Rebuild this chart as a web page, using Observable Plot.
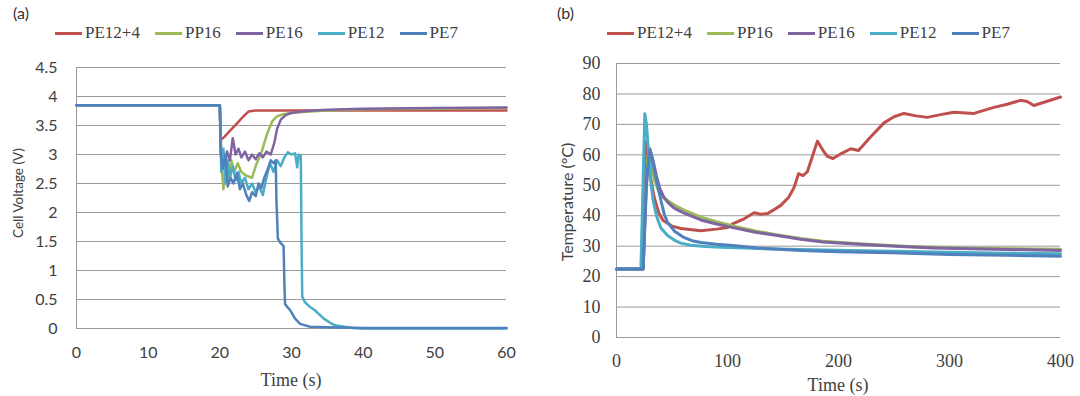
<!DOCTYPE html>
<html><head><meta charset="utf-8">
<script src="https://cdn.jsdelivr.net/npm/d3@7"></script>
<script src="https://cdn.jsdelivr.net/npm/@observablehq/plot@0.6"></script>
<style>
body{margin:0;background:#fff;}
#wrap{position:relative;width:1080px;height:396px;overflow:hidden;background:#fff;}
.legend{position:absolute;top:24px;display:flex;align-items:center;gap:15px;font-family:"Liberation Serif",serif;font-size:17px;color:#404040;height:18px;white-space:nowrap}
.legend .it{display:flex;align-items:center;gap:3px;}
.legend .sw{width:27px;height:3px;}
.plab{position:absolute;font-family:Lato,sans-serif;font-size:16px;color:#333;line-height:18px}
.ttl{position:absolute;white-space:nowrap;line-height:20px;color:#404040}
</style></head>
<body><div id="wrap"></div>
<script>
// ---------- data ----------
const seriesNames = ["PE12+4","PP16","PE16","PE12","PE7"];
const seriesColors = ["#C0504D","#9BBB59","#8064A2","#4BACC6","#4F81BD"];

const voltTicks = [0,0.5,1,1.5,2,2.5,3,3.5,4,4.5];
const voltTimeTicks = [0,10,20,30,40,50,60];
const tempTicks = [0,10,20,30,40,50,60,70,80,90];
const tempTimeTicks = [0,100,200,300,400];

// (a) cell voltage [time s, V]
const voltPE12_4 = [[0,3.85],[20,3.85],[20.1,3.25],[20.6,3.3],[21.5,3.42],[22.5,3.55],[23.3,3.66],[24,3.74],[25,3.76],[30,3.76],[40,3.76],[50,3.76],[60,3.76]];
const voltPP16 = [[0,3.85],[20,3.85],[20.2,2.9],[20.5,2.4],[20.8,2.8],[21.2,2.6],[21.6,2.9],[22,2.7],[22.5,2.85],[23,2.7],[23.5,2.65],[24,2.62],[24.5,2.6],[25,2.8],[25.5,2.95],[25.9,3.07],[26.6,3.36],[27.3,3.57],[28,3.66],[29,3.7],[31,3.73],[35,3.76],[40,3.78],[50,3.79],[60,3.8]];
const voltPE16 = [[0,3.85],[20,3.85],[20.2,3.0],[20.6,2.8],[21,3.05],[21.4,2.9],[21.8,3.28],[22.2,3.0],[22.6,3.1],[23,2.95],[23.5,3.05],[24,2.9],[24.5,3.0],[25,2.92],[25.5,3.02],[26,2.95],[26.5,3.05],[27.1,3.0],[27.6,3.2],[28,3.45],[28.5,3.6],[29.2,3.68],[30,3.72],[32,3.75],[35,3.77],[40,3.79],[50,3.8],[60,3.81]];
const voltPE12 = [[0,3.85],[20,3.85],[20.2,2.7],[20.5,3.1],[20.8,2.5],[21.1,2.9],[21.4,2.6],[21.8,2.8],[22.2,2.55],[22.6,2.7],[23,2.5],[23.5,2.6],[24,2.4],[24.5,2.5],[25,2.35],[25.5,2.45],[26,2.3],[26.5,2.6],[27,2.85],[27.5,2.7],[28,2.9],[28.5,2.8],[29,2.95],[29.5,3.04],[30,3.0],[30.5,3.02],[30.8,2.78],[31,3.0],[31.3,2.98],[31.4,1.5],[31.5,0.55],[31.9,0.45],[32.5,0.38],[33.3,0.31],[34.5,0.17],[35.5,0.09],[36.2,0.05],[38.6,0.01],[40,0],[60,0]];
const voltPE7 = [[0,3.85],[20,3.85],[20.1,3.05],[20.4,2.75],[20.8,3.0],[21.1,2.45],[21.5,2.6],[21.9,2.5],[22.4,2.68],[22.8,2.4],[23.2,2.5],[23.7,2.3],[24.1,2.2],[24.5,2.35],[25,2.28],[25.4,2.5],[25.8,2.42],[26.2,2.6],[26.7,2.75],[27.1,2.9],[27.5,2.85],[27.8,2.9],[27.9,2.2],[28.1,1.55],[28.5,1.47],[28.9,1.42],[29.0,0.8],[29.1,0.42],[29.5,0.36],[29.85,0.31],[30.5,0.17],[31.2,0.08],[32.6,0.03],[35,0.02],[40,0.01],[60,0.01]];

// (b) temperature [time s, °C]
const tempPE12_4 = [[0,22.5],[24,22.5],[26,64.5],[28,60],[31,52],[34,46],[38,41],[42,38.4],[50,36.6],[58,35.8],[76,35.1],[90,35.6],[100,36.1],[105,37.4],[115,39],[124,41],[130,40.5],[136,40.7],[142,42],[148,43.4],[155,46],[160,49.3],[164,53.8],[168,53.2],[172,54.5],[177,60],[181,64.5],[186,61.5],[190,59.5],[195,58.8],[203,60.5],[211,62],[218,61.4],[228,65.5],[241,70.5],[250,72.5],[259,73.6],[270,72.8],[280,72.3],[292,73.2],[304,74],[322,73.6],[340,75.6],[352,76.6],[364,77.9],[370,77.5],[376,76.2],[388,77.6],[400,79]];
const tempPP16 = [[0,22.5],[24,22.5],[26.5,50],[28.5,60],[31,57],[34,52],[38,48],[42,46],[46,45],[52,43.5],[60,42],[76,39.5],[90,38],[105,36.6],[125,35],[145,33.7],[166,32.5],[186,31.6],[226,30.6],[260,30],[300,29.5],[340,29.2],[400,29]];
const tempPE16 = [[0,22.5],[24,22.5],[27,50],[30,62],[33,58],[36,53],[39,49],[42,46.5],[46,44.5],[52,42.5],[60,41],[76,38.6],[90,37.3],[105,36.1],[125,34.6],[145,33.5],[166,32.3],[186,31.4],[226,30.5],[260,29.8],[286,29.4],[340,29],[400,28.6]];
const tempPE12 = [[0,22.5],[22,22.5],[25.5,73.5],[27,70],[29,60],[31,51],[33,45],[36,40],[40,36],[46,33.5],[52,32],[58,31],[67,30.3],[80,29.9],[100,29.6],[130,29.2],[166,28.9],[210,28.6],[250,28.3],[300,28],[350,27.7],[400,27.5]];
const tempPE7 = [[0,22.5],[24,22.5],[27,52],[30,61.5],[32,59],[34,55],[37,50],[40,45],[43,40.5],[46,37.8],[52,35],[60,33],[68,31.8],[76,31.2],[90,30.6],[105,30.2],[127,29.4],[166,28.6],[200,28.2],[247,27.8],[300,27.3],[350,27],[400,26.7]];

const voltSeries = [voltPE12_4, voltPP16, voltPE16, voltPE12, voltPE7];
const tempSeries = [tempPE12_4, tempPP16, tempPE16, tempPE12, tempPE7];

// ---------- build ----------
const wrap = document.getElementById("wrap");
const toRows = (list) => list.flatMap((arr, i) => arr.map(([t, v]) => ({t, v, s: seriesNames[i]})));
const GRID = "#9a9a9a";

function panel(cfg) {
  const rows = toRows(cfg.series);
  const svg = Plot.plot({
    width: 540, height: 348,
    marginTop: cfg.mt, marginBottom: cfg.mb, marginLeft: 76, marginRight: cfg.mr,
    style: {fontFamily: cfg.font, fontSize: cfg.fontSize, color: "#404040", background: "transparent"},
    x: {domain: cfg.xDomain},
    y: {domain: cfg.yDomain},
    color: {domain: seriesNames, range: seriesColors},
    marks: [
      Plot.gridY(cfg.yTicks, {stroke: GRID, strokeOpacity: 1, strokeWidth: 1}),
      Plot.ruleX([cfg.xDomain[0]], {stroke: GRID, strokeWidth: 1}),
      Plot.axisY(cfg.yTicks, {tickSize: 0, tickPadding: cfg.yPad, label: null, tickFormat: d => String(d)}),
      Plot.axisX(cfg.xTicks, {tickSize: 0, tickPadding: cfg.xPad, label: null, tickFormat: d => String(d)}),
      Plot.line(rows, {x: "t", y: "v", z: "s", stroke: "s", strokeWidth: cfg.sw, strokeLinejoin: "round", strokeLinecap: "round"})
    ]
  });
  svg.style.position = "absolute";
  svg.style.left = cfg.left + "px";
  svg.style.top = "48px";
  wrap.appendChild(svg);

  // legend
  const lg = document.createElement("div");
  lg.className = "legend";
  lg.style.left = cfg.legendLeft + "px";
  seriesNames.forEach((n, i) => {
    const it = document.createElement("div"); it.className = "it";
    const sw = document.createElement("div"); sw.className = "sw"; sw.style.background = seriesColors[i];
    const tx = document.createElement("span"); tx.textContent = n;
    it.appendChild(sw); it.appendChild(tx); lg.appendChild(it);
  });
  wrap.appendChild(lg);

  const pl = document.createElement("div");
  pl.className = "plab"; pl.textContent = cfg.tag;
  pl.style.left = cfg.tagLeft + "px"; pl.style.top = "4px";
  wrap.appendChild(pl);

  const xt = document.createElement("div");
  xt.className = "ttl"; xt.textContent = cfg.xTitle;
  xt.style.fontFamily = '"Liberation Serif", serif'; xt.style.fontSize = "18px";
  xt.style.left = cfg.xTitleX + "px"; xt.style.top = (cfg.xTitleY - 10) + "px";
  xt.style.transform = "translateX(-50%)";
  wrap.appendChild(xt);

  const yt = document.createElement("div");
  yt.className = "ttl"; yt.textContent = cfg.yTitle;
  yt.style.fontFamily = "Lato, sans-serif"; yt.style.fontSize = cfg.yTitleSize;
  yt.style.left = cfg.yTitleX + "px"; yt.style.top = (cfg.yTitleY - 10) + "px";
  yt.style.transform = "translate(-50%,0) rotate(-90deg)";
  yt.style.transformOrigin = "50% 50%";
  wrap.appendChild(yt);
}

panel({
  series: voltSeries, left: 0, mt: 19, mb: 68, mr: 34,
  font: "Lato, sans-serif", fontSize: "16px",
  xDomain: [0, 60], yDomain: [0, 4.5], xTicks: voltTimeTicks, yTicks: voltTicks,
  yPad: 19, xPad: 18, sw: 2.5,
  legendLeft: 55, tag: "(a)", tagLeft: 13,
  xTitle: "Time (s)", xTitleX: 291, xTitleY: 380,
  yTitle: "Cell Voltage (V)", yTitleX: 18, yTitleY: 193, yTitleSize: "13.5px"
});
panel({
  series: tempSeries, left: 540, mt: 15, mb: 59, mr: 20,
  font: '"Liberation Serif", serif', fontSize: "18px",
  xDomain: [0, 400], yDomain: [0, 90], xTicks: tempTimeTicks, yTicks: tempTicks,
  yPad: 16, xPad: 17, sw: 3,
  legendLeft: 607, tag: "(b)", tagLeft: 557,
  xTitle: "Time (s)", xTitleX: 838, xTitleY: 385,
  yTitle: "Temperature (°C)", yTitleX: 567, yTitleY: 202, yTitleSize: "16px"
});
</script>
</body></html>
